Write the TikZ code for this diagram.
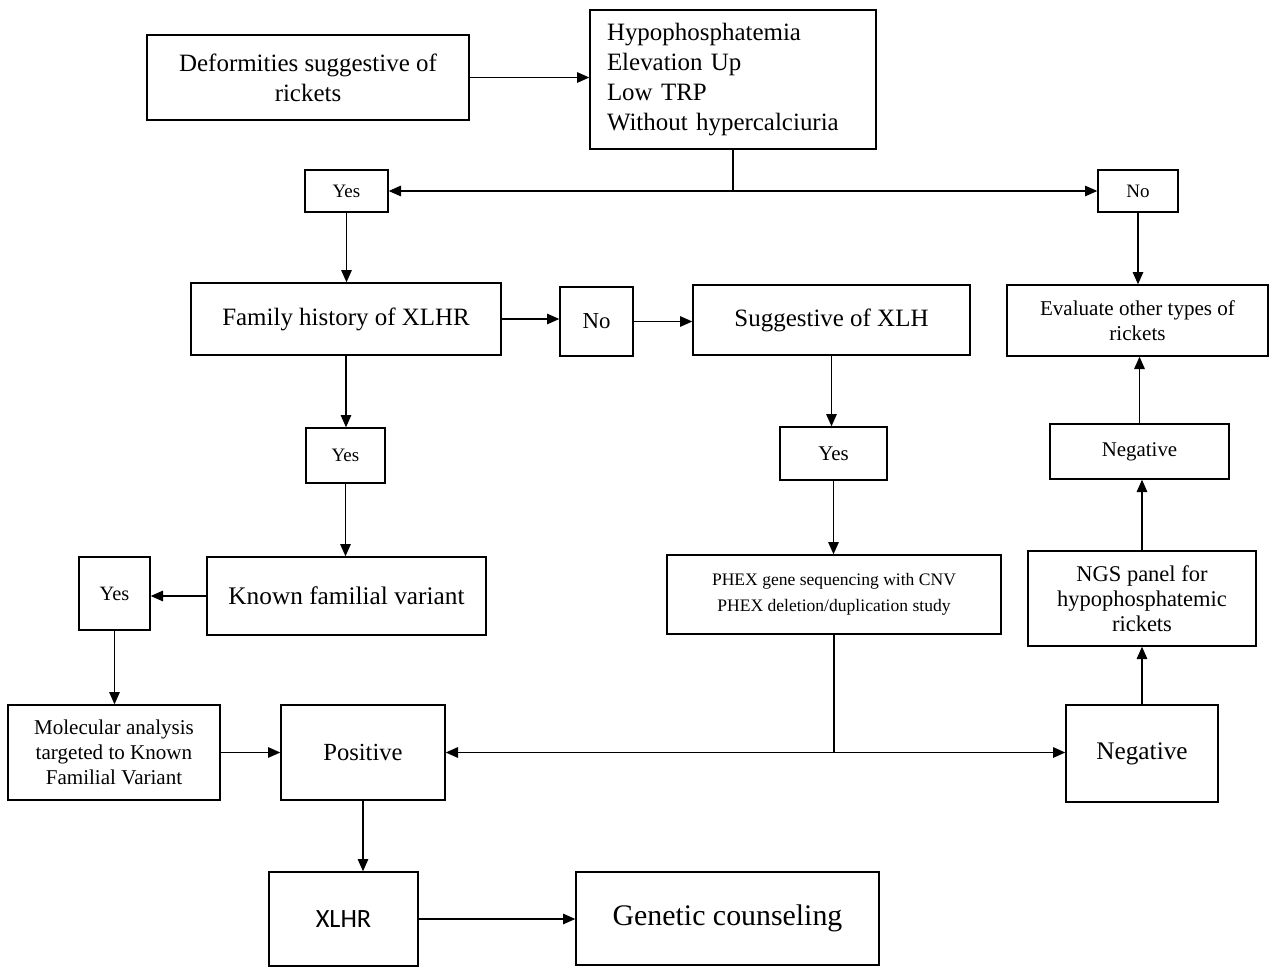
\documentclass[tikz,border=0pt]{standalone}
\usepackage{fontspec}
\setmainfont{Liberation Serif}
\newfontfamily\sansxl{Carlito}
\usetikzlibrary{arrows.meta,calc}

\newcommand\fsz[2]{\fontsize{#1}{#2}\selectfont}

\tikzset{
  box/.style 2 args={draw=black, line width=0.8pt, minimum width=#1*0.02cm, minimum height=#2*0.02cm, inner sep=0pt, align=center},
  link/.style={line width=0.8pt},
  arr/.style={-{Triangle[length=7pt,width=6pt]}, line width=0.8pt},
}

\begin{document}
\begin{tikzpicture}[x=0.02cm, y=-0.02cm]
        \useasboundingbox (0,0) rectangle (1269,967);
        % first row
        \node[box={322}{85}, font={\fsz{14.2}{17}}] (deform) at (308,77.5) {Deformities suggestive of\\rickets};
        \node[box={286}{139}, align=left, text width=252*0.02cm, font={\fsz{14.2}{17}}] (hypo) at (733,79.5)
          {Hypophosphatemia\\Elevation Up\\Low TRP\\Without hypercalciuria};
        \node[box={83}{42}, font={\fsz{10.8}{13}}] (yesa) at (346.5,191) {Yes};
        \node[box={80}{42}, font={\fsz{10.8}{13}}] (noa) at (1138,191) {No};

        % second row
        \node[box={310}{72}, font={\fsz{14.2}{17}}] (family) at (346,319) {Family history of XLHR};
        \node[box={73}{69}, font={\fsz{13}{15}}] (nob) at (596.5,321.5) {No};
        \node[box={277}{70}, font={\fsz{14.2}{17}}] (suggest) at (831.5,320) {Suggestive of XLH};
        \node[box={261}{71}, font={\fsz{12}{14.2}}] (evaluate) at (1137.5,320.5) {Evaluate other types of\\rickets};

        % third row
        \node[box={79}{55}, font={\fsz{10.8}{13}}] (yesb) at (345.5,455.5) {Yes};
        \node[box={107}{53}, font={\fsz{11.9}{14}}] (yesc) at (833.5,453.5) {Yes};
        \node[box={179}{55}, font={\fsz{11.9}{14}}] (negb) at (1139.5,451.5) {Negative};

        % fourth row
        \node[box={71}{73}, font={\fsz{11.6}{14}}] (yesd) at (114.5,593.5) {Yes};
        \node[box={279}{78}, font={\fsz{14.4}{17}}] (known) at (346.5,596) {Known familial variant};
        \node[box={334}{79}, font={\fsz{10}{14.7}}] (phex) at (834,594.5)
          {PHEX gene sequencing with CNV\\PHEX deletion/duplication study};
        \node[box={228}{95}, font={\fsz{12.8}{14.2}}] (ngs) at (1142,598.5) {NGS panel for\\hypophosphatemic\\rickets};

        % fifth row
        \node[box={212}{95}, font={\fsz{12}{14.2}}] (molec) at (114,752.5)
          {Molecular analysis\\targeted to Known\\Familial Variant};
        \node[box={164}{95}, font={\fsz{14}{17}}] (pos) at (363,752.5) {Positive};
        \node[box={152}{97}, font={\fsz{14.4}{17}}] (nega) at (1142,753.5) {Negative};

        % last row
        \node[box={149}{94}, font={\sansxl\fsz{15}{18}}] (xlhr) at (343.5,919) {XLHR};
        \node[box={303}{93}, font={\fsz{17}{20}}] (counsel) at (727.5,918.5) {Genetic counseling};

        % split points
        \coordinate (splita) at (hypo.south |- yesa.east);
        \coordinate (splitb) at (phex.south |- pos.east);

        % connectors
        \draw[arr] (deform.east) -- (deform.east -| hypo.west);
        \draw[link] (hypo.south) -- (splita);
        \draw[arr] (splita) -- (yesa.east);
        \draw[arr] (splita) -- (noa.west);
        \draw[arr] (yesa.south) -- (yesa.south |- family.north);
        \draw[arr] (noa.south) -- (noa.south |- evaluate.north);
        \draw[arr] (family.east) -- (family.east -| nob.west);
        \draw[arr] (nob.east) -- (nob.east -| suggest.west);
        \draw[arr] (family.south) -- (family.south |- yesb.north);
        \draw[arr] (suggest.south) -- (suggest.south |- yesc.north);
        \draw[arr] (negb.north) -- (negb.north |- evaluate.south);
        \draw[arr] (yesb.south) -- (yesb.south |- known.north);
        \draw[arr] (yesc.south) -- (yesc.south |- phex.north);
        \draw[arr] (ngs.north) -- (ngs.north |- negb.south);
        \draw[arr] (known.west) -- (known.west -| yesd.east);
        \draw[arr] (yesd.south) -- (yesd.south |- molec.north);
        \draw[link] (phex.south) -- (splitb);
        \draw[arr] (splitb) -- (pos.east);
        \draw[arr] (splitb) -- (splitb -| nega.west);
        \draw[arr] (nega.north) -- (nega.north |- ngs.south);
        \draw[arr] (molec.east) -- (molec.east -| pos.west);
        \draw[arr] (pos.south) -- (pos.south |- xlhr.north);
        \draw[arr] (xlhr.east) -- (xlhr.east -| counsel.west);
\end{tikzpicture}
\end{document}
